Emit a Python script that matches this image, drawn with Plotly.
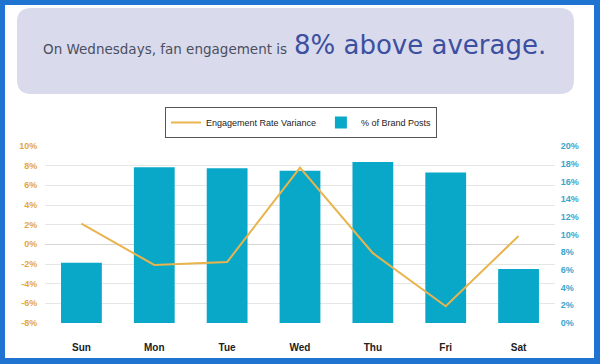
import plotly.graph_objects as go

# ---- data ----
days = ["Sun", "Mon", "Tue", "Wed", "Thu", "Fri", "Sat"]
brand_posts_pct = [6.8, 17.6, 17.5, 17.2, 18.2, 17.0, 6.1]
engagement_variance = [2.1, -2.1, -1.8, 7.8, -0.9, -6.3, 0.85]
left_ticks = [-8, -6, -4, -2, 0, 2, 4, 6, 8, 10]
left_ticktext = ["-8%", "-6%", "-4%", "-2%", "0%", "2%", "4%", "6%", "8%", "10%"]
right_ticks = [0, 2, 4, 6, 8, 10, 12, 14, 16, 18, 20]
right_ticktext = ["0%", "2%", "4%", "6%", "8%", "10%", "12%", "14%", "16%", "18%", "20%"]
title_small = "On Wednesdays, fan engagement is"
title_big = "8% above average."

# ---- layout geometry ----
W, H = 600, 364
ML, MR, MT, MB = 45, 45, 146, 41
PW, PH = W - ML - MR, H - MT - MB


def px2x(px):
    return (px - ML) / PW


def py2y(py):
    return (H - MB - py) / PH


def rounded_path(x0, y0, x1, y1, r):
    def p(x, y):
        return f"{px2x(x):.5f},{py2y(y):.5f}"
    pts = [
        "M" + p(x0 + r, y0),
        "L" + p(x1 - r, y0),
        "Q" + p(x1, y0) + " " + p(x1, y0 + r),
        "L" + p(x1, y1 - r),
        "Q" + p(x1, y1) + " " + p(x1 - r, y1),
        "L" + p(x0 + r, y1),
        "Q" + p(x0, y1) + " " + p(x0, y1 - r),
        "L" + p(x0, y0 + r),
        "Q" + p(x0, y0) + " " + p(x0 + r, y0),
        "Z",
    ]
    return " ".join(pts)


BORDER = "#1f74d2"
BAR = "#0aa8c8"
LINE = "#e9b44c"
LEFT_TXT = "#e3a73e"
RIGHT_TXT = "#3aa6cc"

fig = go.Figure()

fig.add_trace(go.Scatter(
    x=days, y=engagement_variance, name="Engagement Rate Variance",
    mode="lines", line=dict(color=LINE, width=2), yaxis="y2",
))
fig.add_trace(go.Bar(
    x=days, y=brand_posts_pct, name="% of Brand Posts",
    marker=dict(color=BAR, line=dict(width=0)), yaxis="y",
))

fig.update_layout(
    width=W, height=H,
    margin=dict(l=ML, r=MR, t=MT, b=MB),
    paper_bgcolor=BORDER,
    plot_bgcolor="white",
    bargap=0.44,
    showlegend=True,
    legend=dict(
        orientation="h", x=px2x(165), y=py2y(107), xanchor="left", yanchor="top",
        bordercolor="#555555", borderwidth=1, bgcolor="white",
        font=dict(family="Liberation Sans, Arial", size=9, color="#222222"),
    ),
    xaxis=dict(
        type="category", showgrid=False, zeroline=False, showline=False,
        ticks="outside", ticklen=15, tickcolor="rgba(0,0,0,0)",
        tickfont=dict(family="Liberation Sans, Arial", size=10, color="#222222", weight="bold"),
    ),
    yaxis=dict(
        side="right", range=[0, 20], tickvals=right_ticks, ticktext=right_ticktext,
        showgrid=False, zeroline=False, showline=False,
        ticks="outside", ticklen=3, tickcolor="rgba(0,0,0,0)",
        tickfont=dict(family="Liberation Sans, Arial", size=9, color=RIGHT_TXT, weight="bold"),
    ),
    yaxis2=dict(
        side="left", overlaying="y", range=[-8, 10],
        tickvals=left_ticks, ticktext=left_ticktext,
        showgrid=True, gridcolor="#e6e6e6", gridwidth=1,
        zeroline=True, zerolinecolor="#d6d6d6", zerolinewidth=1, showline=False,
        ticks="outside", ticklen=5, tickcolor="rgba(0,0,0,0)",
        tickfont=dict(family="Liberation Sans, Arial", size=9, color=LEFT_TXT, weight="bold"),
    ),
    shapes=[
        dict(type="rect", xref="paper", yref="paper", layer="below",
             x0=px2x(5), x1=px2x(594), y0=py2y(358), y1=py2y(5),
             fillcolor="white", line=dict(width=0)),
        dict(type="path", xref="paper", yref="paper", layer="below",
             path=rounded_path(17, 8, 574, 94, 14),
             fillcolor="#d9dbec", line=dict(width=0)),
    ],
    annotations=[
        dict(text=title_small, xref="paper", yref="paper", x=px2x(41), y=py2y(49),
             xanchor="left", yanchor="middle", showarrow=False,
             font=dict(family="DejaVu Sans", size=13.5, color="#4b4e60")),
        dict(text=title_big, xref="paper", yref="paper", x=px2x(292), y=py2y(45),
             xanchor="left", yanchor="middle", showarrow=False,
             font=dict(family="DejaVu Sans", size=26, color="#3c4fa0")),
    ],
)

fig.write_html(
    "out.html",
    config={"displayModeBar": False},
    post_script="document.body.style.margin='0';document.body.style.padding='0';",
)
